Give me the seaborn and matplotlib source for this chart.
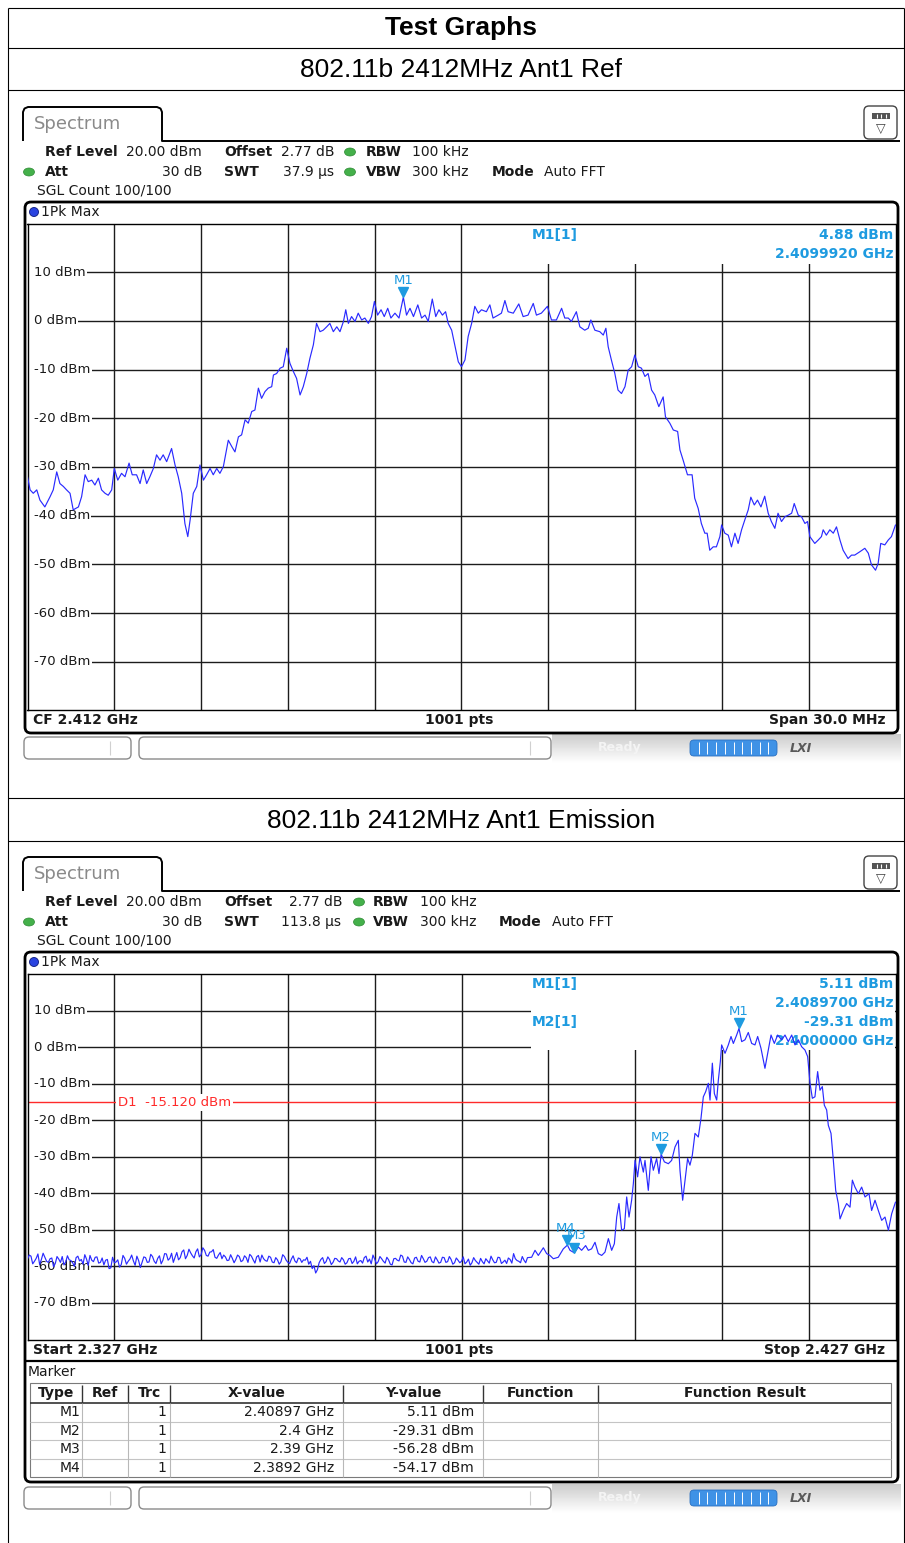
import matplotlib
matplotlib.use("Agg")
import matplotlib.pyplot as plt
import numpy as np
import pandas as pd
import seaborn as sns
from matplotlib.patches import FancyBboxPatch, Ellipse, Circle, Rectangle
from matplotlib.transforms import blended_transform_factory, offset_copy

# -------------------------
# Data: 802.11b 2412MHz Ant1 Ref (CF 2.412 GHz, span 30 MHz)
# -------------------------
ref_start_mhz = 2397.0
ref_stop_mhz = 2427.0
ref_offset_mhz = [
    0.00, 0.09, 0.20, 0.32, 0.43, 0.60, 0.78, 0.89, 1.01, 1.12,
    1.24, 1.35, 1.47, 1.58, 1.76, 1.87, 1.99, 2.10, 2.22, 2.33,
    2.45, 2.56, 2.68, 2.79, 2.91, 3.00, 3.12, 3.25, 3.37, 3.51,
    3.62, 3.77, 3.89, 4.00, 4.12, 4.23, 4.35, 4.46, 4.58, 4.69,
    4.81, 4.98, 5.10, 5.21, 5.33, 5.44, 5.54, 5.62, 5.73, 5.85,
    5.96, 6.08, 6.19, 6.31, 6.42, 6.54, 6.65, 6.77, 6.94, 7.06,
    7.17, 7.29, 7.40, 7.52, 7.63, 7.75, 7.86, 7.98, 8.09, 8.21,
    8.32, 8.44, 8.50, 8.61, 8.73, 8.84, 8.96, 9.07, 9.19, 9.30,
    9.42, 9.53, 9.65, 9.76, 9.88, 9.99, 10.11, 10.22, 10.34, 10.45,
    10.57, 10.69, 10.80, 10.92, 11.00, 11.09, 11.20, 11.32, 11.43, 11.55,
    11.66, 11.78, 11.89, 11.99, 12.10, 12.22, 12.33, 12.45, 12.56, 12.70,
    12.84, 12.99, 13.10, 13.22, 13.34, 13.49, 13.62, 13.74, 13.85, 13.99,
    14.11, 14.22, 14.34, 14.45, 14.54, 14.66, 14.78, 14.89, 15.00, 15.12,
    15.23, 15.35, 15.46, 15.58, 15.69, 15.86, 15.98, 16.09, 16.27, 16.38,
    16.50, 16.61, 16.79, 16.98, 17.13, 17.30, 17.48, 17.59, 17.76, 17.97,
    18.11, 18.28, 18.46, 18.57, 18.69, 18.80, 18.97, 19.09, 19.26, 19.38,
    19.47, 19.61, 19.78, 19.90, 19.99, 20.07, 20.18, 20.30, 20.41, 20.53,
    20.65, 20.76, 20.88, 20.99, 21.11, 21.22, 21.34, 21.45, 21.57, 21.68,
    21.82, 21.97, 22.05, 22.20, 22.32, 22.47, 22.55, 22.66, 22.81, 22.97,
    23.06, 23.18, 23.29, 23.41, 23.49, 23.58, 23.70, 23.81, 23.93, 23.99,
    24.10, 24.22, 24.33, 24.45, 24.56, 24.68, 24.79, 24.91, 25.00, 25.12,
    25.23, 25.35, 25.48, 25.60, 25.71, 25.83, 25.94, 26.06, 26.18, 26.29,
    26.41, 26.50, 26.64, 26.75, 26.87, 26.96, 27.04, 27.21, 27.33, 27.44,
    27.50, 27.61, 27.73, 27.85, 27.96, 28.08, 28.19, 28.36, 28.48, 28.59,
    28.77, 28.94, 29.06, 29.17, 29.31, 29.40, 29.49, 29.63, 29.75, 29.86,
    30.00,
]
ref_level_dbm = [
    -32.0, -34.7, -35.4, -34.7, -36.8, -38.2, -36.1, -34.7, -31.0, -33.4,
    -34.0, -34.7, -35.4, -38.8, -38.2, -36.1, -31.6, -33.0, -32.7, -33.7,
    -32.3, -34.7, -35.4, -35.8, -34.7, -30.3, -32.7, -31.3, -32.0, -29.2,
    -31.6, -31.6, -33.4, -30.6, -33.4, -32.0, -30.3, -27.5, -28.6, -27.5,
    -28.9, -26.2, -29.6, -32.0, -35.4, -41.6, -44.3, -40.9, -35.4, -34.0,
    -29.6, -32.7, -31.6, -30.3, -31.6, -30.3, -31.3, -29.9, -24.5, -25.8,
    -26.9, -23.8, -23.4, -20.3, -21.0, -18.6, -18.3, -13.8, -15.9, -14.5,
    -13.8, -13.5, -11.1, -10.8, -9.7, -9.4, -5.6, -8.7, -10.4, -11.8,
    -15.2, -13.5, -10.8, -7.7, -4.9, -0.5, -2.2, -1.9, -1.2, -0.5,
    -2.2, -1.2, -2.2, -0.1, 2.3, -0.5, 0.9, -0.1, 1.6, 0.2,
    0.6, -0.5, 0.9, 4.0, 1.2, 2.3, 0.9, 2.6, 0.6, 1.6,
    0.6, 4.88, 1.2, 2.6, 0.9, 3.3, 0.6, 1.2, -0.1, 4.5,
    0.9, 2.3, 1.2, 1.9, -0.5, -1.9, -5.3, -8.4, -9.4, -8.0,
    -3.2, -0.5, 3.0, 1.6, 2.3, 1.9, 3.3, 0.6, 1.2, 1.6,
    4.2, 1.9, 1.6, 3.5, 0.9, 1.2, 3.6, 1.2, 1.6, 3.0,
    0.2, 0.2, 2.6, 0.6, 0.6, -0.1, 1.9, -1.2, -1.9, -1.5,
    0.2, -1.9, -2.2, -2.9, -1.5, -5.3, -8.0, -10.8, -14.2, -14.9,
    -13.5, -10.1, -9.4, -7.0, -9.4, -9.7, -11.4, -10.8, -14.2, -15.2,
    -17.6, -15.6, -19.7, -21.0, -22.4, -22.7, -26.5, -28.6, -31.6, -31.6,
    -36.4, -38.5, -41.6, -43.6, -43.6, -47.1, -46.4, -46.4, -44.3, -41.9,
    -43.6, -44.0, -46.4, -43.6, -45.7, -42.9, -40.9, -38.8, -36.2, -37.8,
    -36.8, -38.2, -36.0, -39.5, -41.2, -42.6, -39.5, -41.2, -40.2, -39.9,
    -39.5, -37.5, -39.9, -40.2, -41.6, -41.2, -44.3, -45.7, -45.0, -44.3,
    -42.9, -44.0, -42.9, -43.6, -42.3, -45.0, -47.1, -48.8, -48.1, -48.1,
    -47.4, -46.7, -47.7, -50.1, -51.2, -49.8, -45.7, -46.0, -45.0, -44.3,
    -41.9,
]
ref_markers = [("M1", 2409.992, 4.88)]

# -------------------------
# Data: 802.11b 2412MHz Ant1 Emission (2.327 - 2.427 GHz)
# -------------------------
em_start_mhz = 2327.0
em_stop_mhz = 2427.0
em_offset_mhz = [
    0.0, 0.4, 0.8, 1.2, 1.6, 2.0, 2.4, 2.8, 3.2, 3.6,
    4.0, 4.4, 4.8, 5.2, 5.6, 6.0, 6.4, 6.8, 7.2, 7.6,
    8.0, 8.4, 8.8, 9.2, 9.6, 10.0, 10.4, 10.8, 11.2, 11.6,
    12.0, 12.4, 12.8, 13.2, 13.6, 14.0, 14.4, 14.8, 15.2, 15.6,
    16.0, 16.4, 16.8, 17.2, 17.6, 18.0, 18.4, 18.8, 19.2, 19.6,
    20.0, 20.4, 20.8, 21.2, 21.6, 22.0, 22.4, 22.8, 23.2, 23.6,
    24.0, 24.4, 24.8, 25.2, 25.6, 26.0, 26.4, 26.8, 27.2, 27.6,
    28.0, 28.4, 28.8, 29.2, 29.6, 30.0, 30.4, 30.8, 31.2, 31.6,
    32.0, 32.4, 32.8, 33.2, 33.6, 34.0, 34.4, 34.8, 35.2, 35.6,
    36.0, 36.4, 36.8, 37.2, 37.6, 38.0, 38.4, 38.8, 39.2, 39.6,
    40.0, 40.4, 40.8, 41.2, 41.6, 42.0, 42.4, 42.8, 43.2, 43.6,
    44.0, 44.4, 44.8, 45.2, 45.6, 46.0, 46.4, 46.8, 47.2, 47.6,
    48.0, 48.4, 48.8, 49.2, 49.6, 50.0, 50.4, 50.8, 51.2, 51.6,
    52.0, 52.4, 52.8, 53.2, 53.6, 54.0, 54.4, 54.8, 55.2, 55.6,
    56.0, 56.4, 56.8, 57.2, 57.6, 58.08, 58.47, 58.85, 59.43, 59.81,
    60.19, 60.58, 61.15, 61.73, 62.20, 62.50, 63.00, 63.46, 63.84, 64.30,
    64.61, 64.99, 65.38, 65.76, 66.15, 66.53, 66.92, 67.30, 67.61, 67.88,
    68.14, 68.45, 68.76, 69.03, 69.30, 69.60, 69.80, 69.99, 70.29, 70.56,
    70.95, 71.14, 71.52, 71.83, 72.10, 72.48, 72.75, 73.00, 73.37, 73.83,
    74.21, 74.60, 74.98, 75.17, 75.48, 75.75, 76.05, 76.32, 76.59, 76.90,
    77.28, 77.59, 77.86, 78.13, 78.44, 78.63, 78.90, 79.13, 79.40, 79.59,
    79.82, 79.97, 80.36, 80.74, 81.05, 81.32, 81.70, 81.97, 82.28, 82.66,
    83.04, 83.43, 83.81, 84.12, 84.50, 84.96, 85.35, 85.66, 86.04, 86.42,
    86.88, 87.27, 87.65, 88.04, 88.42, 88.81, 89.19, 89.57, 89.88, 90.15,
    90.42, 90.72, 91.03, 91.30, 91.57, 91.80, 92.07, 92.26, 92.57, 92.84,
    93.11, 93.41, 93.61, 93.99, 94.37, 94.76, 95.03, 95.33, 95.72, 96.10,
    96.49, 96.95, 97.25, 97.64, 98.02, 98.41, 98.79, 99.18, 99.56, 100.0,
]
em_level_dbm = [
    -58.0, -57.2, -58.6, -56.6, -58.1, -57.5, -58.9, -57.7, -59.2, -58.0,
    -57.3, -58.8, -58.2, -59.0, -57.6, -58.5, -59.4, -58.0, -57.0, -58.7,
    -57.4, -58.9, -59.6, -58.1, -60.4, -59.0, -58.2, -59.5, -57.8, -58.6,
    -56.9, -59.7, -58.4, -58.9, -57.6, -58.8, -57.3, -59.2, -57.1, -58.3,
    -56.6, -57.8, -58.9, -56.2, -57.6, -55.5, -57.0, -56.3, -57.7, -55.2,
    -56.8, -55.6, -57.2, -56.0, -57.5, -56.9, -57.9, -57.4, -58.3, -57.8,
    -58.1, -57.3, -58.4, -57.6, -56.7, -58.2, -57.4, -58.8, -57.9, -58.6,
    -57.5, -59.0, -58.2, -58.7, -57.3, -58.9, -58.0, -58.5, -57.7, -58.9,
    -58.3, -59.4, -60.6, -61.8, -59.0, -57.6, -58.7, -58.1, -58.9, -57.9,
    -58.8, -58.2, -59.0, -57.8, -58.6, -59.3, -58.4, -57.6, -58.8, -59.3,
    -58.0, -58.7, -57.9, -59.1, -58.2, -59.6, -57.8, -58.5, -57.2, -58.9,
    -58.1, -59.3, -57.5, -58.8, -57.9, -58.6, -57.4, -59.0, -58.2, -58.9,
    -57.6, -58.7, -58.1, -59.0, -58.3, -58.6, -59.3, -58.0, -59.0, -58.4,
    -59.4, -58.7, -57.9, -59.1, -58.2, -58.9, -57.6, -58.8, -59.2, -58.1,
    -56.5, -58.4, -59.0, -58.3, -57.6, -57.5, -55.6, -57.0, -54.9, -56.5,
    -57.0, -57.9, -57.5, -55.2, -54.17, -55.6, -56.28, -54.7, -55.6, -54.3,
    -55.6, -55.2, -53.4, -56.5, -57.0, -56.1, -52.4, -55.6, -53.8, -46.5,
    -42.8, -50.1, -49.7, -41.0, -46.5, -41.9, -37.3, -31.0, -35.5, -30.0,
    -34.2, -31.0, -39.2, -30.0, -33.7, -30.5, -34.6, -29.31, -31.4, -31.9,
    -31.0, -27.3, -25.5, -33.7, -41.9, -36.4, -30.5, -32.3, -29.6, -23.6,
    -24.6, -19.5, -13.6, -12.2, -9.9, -14.5, -4.4, -12.7, -14.5, -9.0,
    -4.0, 0.6, -1.7, 0.6, 2.9, 1.0, 3.3, 5.11, 1.5, 2.0,
    4.0, 1.0, 0.6, 2.9, -0.3, -5.8, -0.8, 3.3, 1.0, 3.3,
    2.0, 3.3, 1.5, 3.3, 0.6, 2.0, 0.1, -0.8, -2.6, -9.9,
    -14.0, -13.6, -6.7, -11.8, -10.8, -15.9, -17.2, -21.4, -23.6, -31.0,
    -39.2, -42.8, -47.0, -44.7, -42.8, -43.8, -36.4, -38.3, -40.1, -38.3,
    -41.0, -40.1, -44.7, -41.9, -44.7, -47.4, -46.5, -50.1, -45.6, -42.4,
]
# extra noise-floor samples read between the points above
em_floor_offset_mhz = [
    0.2, 0.6, 1.0, 1.4, 1.8, 2.2, 2.6, 3.0, 3.4, 3.8,
    4.2, 4.6, 5.0, 5.4, 5.8, 6.2, 6.6, 7.0, 7.4, 7.8,
    8.2, 8.6, 9.0, 9.4, 9.8, 10.2, 10.6, 11.0, 11.4, 11.8,
    12.2, 12.6, 13.0, 13.4, 13.8, 14.2, 14.6, 15.0, 15.4, 15.8,
    16.2, 16.6, 17.0, 17.4, 17.8, 18.2, 18.6, 19.0, 19.4, 19.8,
    20.2, 20.6, 21.0, 21.4, 21.8, 22.2, 22.6, 23.0, 23.4, 23.8,
    24.2, 24.6, 25.0, 25.4, 25.8, 26.2, 26.6, 27.0, 27.4, 27.8,
    28.2, 28.6, 29.0, 29.4, 29.8, 30.2, 30.6, 31.0, 31.4, 31.8,
    32.2, 32.6, 33.0, 33.4, 33.8, 34.2, 34.6, 35.0, 35.4, 35.8,
    36.2, 36.6, 37.0, 37.4, 37.8, 38.2, 38.6, 39.0, 39.4, 39.8,
    40.2, 40.6, 41.0, 41.4, 41.8, 42.2, 42.6, 43.0, 43.4, 43.8,
    44.2, 44.6, 45.0, 45.4, 45.8, 46.2, 46.6, 47.0, 47.4, 47.8,
    48.2, 48.6, 49.0, 49.4, 49.8, 50.2, 50.6, 51.0, 51.4, 51.8,
    52.2, 52.6, 53.0, 53.4, 53.8, 54.2, 54.6, 55.0, 55.4, 55.8,
    56.2, 56.6, 57.0, 57.4,
]
em_floor_level_dbm = [
    -56.9, -59.3, -57.8, -59.5, -56.4, -58.6, -57.9, -60.1, -57.3, -58.9,
    -59.6, -57.1, -58.4, -60.0, -57.2, -58.1, -56.8, -59.7, -58.3, -57.5,
    -59.1, -57.7, -58.3, -60.6, -57.5, -58.8, -60.2, -57.0, -59.4, -58.0,
    -58.5, -57.2, -60.3, -57.4, -58.9, -56.7, -58.6, -57.8, -59.3, -56.5,
    -58.3, -56.4, -57.5, -58.2, -56.0, -57.9, -55.3, -57.1, -56.0, -57.4,
    -54.9, -57.0, -56.1, -55.4, -57.8, -56.2, -56.9, -58.4, -56.8, -59.0,
    -56.9, -58.7, -57.1, -58.9, -57.2, -59.1, -57.0, -56.9, -58.4, -57.2,
    -58.8, -57.6, -59.4, -56.8, -58.3, -59.2, -57.1, -59.0, -57.9, -58.2,
    -57.5, -58.6, -59.8, -60.9, -58.1, -59.2, -57.4, -59.5, -57.8, -58.5,
    -57.6, -59.4, -57.9, -59.2, -57.4, -58.6, -59.1, -57.2, -58.0, -56.9,
    -59.3, -57.3, -58.6, -57.5, -59.4, -57.9, -58.3, -56.9, -58.8, -57.4,
    -59.0, -57.7, -58.6, -57.0, -58.9, -57.6, -58.7, -57.4, -59.1, -57.5,
    -58.9, -57.3, -59.4, -57.7, -59.0, -57.4, -58.8, -59.7, -57.6, -58.9,
    -57.8, -59.3, -58.5, -57.2, -59.0, -57.5, -59.2, -58.3, -57.7, -59.1,
    -57.9, -58.6, -57.3, -59.0,
]
em_markers = [("M1", 2408.97, 5.11), ("M2", 2400.0, -29.31),
              ("M3", 2390.0, -56.28), ("M4", 2389.2, -54.17)]
em_display_line_dbm = -15.12

table_columns = ["Type", "Ref", "Trc", "X-value", "Y-value", "Function", "Function Result"]
table_types = ["M1", "M2", "M3", "M4"]
table_x = ["2.40897 GHz", "2.4 GHz", "2.39 GHz", "2.3892 GHz"]
table_y = ["5.11 dBm", "-29.31 dBm", "-56.28 dBm", "-54.17 dBm"]

# -------------------------
# Figure setup
# -------------------------
sns.set_theme(style="white")
plt.rcParams["font.family"] = ["DejaVu Sans"]

W, H = 905, 1543
fig = plt.figure(figsize=(W / 100, H / 100), dpi=100)
bg = fig.add_axes([0, 0, 1, 1])
bg.set_xlim(0, W)
bg.set_ylim(H, 0)
bg.axis("off")

TXT = "#1a1a1a"
MK = "#1e9be0"
TRACE = "#2a2aff"
GRID = "#1c1c1c"


def line(xs, ys, **kw):
    kw.setdefault("color", "black")
    kw.setdefault("lw", 0.8)
    bg.plot(xs, ys, solid_capstyle="butt", **kw)


def txt(x, y, s, size=10, ha="left", bold=False, color=TXT, **kw):
    bg.text(x, y, s, fontsize=size, ha=ha, va="center", color=color,
            fontweight="bold" if bold else "normal", **kw)


# outer report table
line([8, 8], [8, H])
line([904, 904], [8, H])
for yy in (8, 48, 90, 798, 841):
    line([8, 904], [yy, yy])
arial = ["Liberation Sans", "DejaVu Sans"]
txt(461, 28, "Test Graphs", size=19, ha="center", bold=True, color="black", family=arial)
txt(461, 70, "802.11b 2412MHz Ant1 Ref", size=19, ha="center", color="black", family=arial)
txt(461, 821, "802.11b 2412MHz Ant1 Emission", size=19, ha="center", color="black", family=arial)


def green_dot(x, y):
    bg.add_patch(Ellipse((x, y), 11, 8, fc="#44b04a", ec="#2e8a34", lw=0.5))


def chrome(dy, head, frame_bottom, status_y):
    # tab
    line([23, 23, 24.5, 28, 157, 160.5, 162, 162, 900],
         [141 + dy, 112 + dy, 108.5 + dy, 107 + dy, 107 + dy, 108.5 + dy, 112 + dy, 141 + dy, 141 + dy],
         lw=1.4)
    txt(34, 124 + dy, "Spectrum", size=13, color="#8a8a8a")
    # icon
    bg.add_patch(FancyBboxPatch((864, 106 + dy), 33, 33, boxstyle="round,pad=0,rounding_size=5",
                                fc="white", ec="#444444", lw=1))
    bg.add_patch(Rectangle((872, 113 + dy), 18, 6, fc="#555555", ec="none"))
    for xx in (876.5, 881, 885.5):
        line([xx, xx], [114 + dy, 118 + dy], color="white", lw=0.8)
    txt(881, 128 + dy, "\u25bd", size=9, ha="center", color="#444444")
    # header
    for (x, y, s, bold, ha) in head:
        if s == "dot":
            green_dot(x, y + dy)
        else:
            txt(x, y + dy, s, bold=bold, ha=ha)
    # frame
    bg.add_patch(FancyBboxPatch((25, 202 + dy), 873, frame_bottom - 202 - dy,
                                boxstyle="round,pad=0,rounding_size=6", fc="none", ec="black", lw=2))
    bg.add_patch(Circle((34, 212 + dy), 4.5, fc="#2a44e0", ec="#0c1a7a", lw=0.6))
    txt(41, 212 + dy, "1Pk Max")
    # status bar
    sy = status_y
    bg.add_patch(FancyBboxPatch((24, sy), 107, 22, boxstyle="round,pad=0,rounding_size=5",
                                fc="white", ec="#8a8a8a", lw=1))
    bg.add_patch(FancyBboxPatch((139, sy), 412, 22, boxstyle="round,pad=0,rounding_size=5",
                                fc="white", ec="#8a8a8a", lw=1))
    line([110, 110], [sy + 4, sy + 18], color="#d0d0d0", lw=0.8)
    line([530, 530], [sy + 4, sy + 18], color="#d0d0d0", lw=0.8)
    grad = np.linspace(0.80, 1.0, 30).reshape(-1, 1)
    bg.imshow(grad, extent=[552, 900, sy + 26, sy - 3], cmap="gray", vmin=0, vmax=1,
              aspect="auto", zorder=0.5)
    txt(620, sy + 10, "Ready", size=9, ha="center", color="#f4f4f4", bold=True)
    bg.add_patch(FancyBboxPatch((690, sy + 3), 87, 16, boxstyle="round,pad=0,rounding_size=4",
                                fc="#3f92e6", ec="#2a70c0", lw=0.6))
    for k in range(1, 10):
        line([690 + k * 8.7, 690 + k * 8.7], [sy + 5, sy + 17], color="white", lw=0.7)
    txt(801, sy + 11, "LXI", size=9, ha="center", bold=True, color="#5a5a5a", style="italic")
    bg.set_xlim(0, W)
    bg.set_ylim(H, 0)


ref_head = [
    (45, 152, "Ref Level", True, "left"), (126, 152, "20.00 dBm", False, "left"),
    (224, 152, "Offset", True, "left"), (281, 152, "2.77 dB", False, "left"),
    (350, 152, "dot", False, "left"), (366, 152, "RBW", True, "left"), (412, 152, "100 kHz", False, "left"),
    (29, 172, "dot", False, "left"), (45, 172, "Att", True, "left"), (202, 172, "30 dB", False, "right"),
    (224, 172, "SWT", True, "left"), (283, 172, "37.9 \u00b5s", False, "left"),
    (350, 172, "dot", False, "left"), (366, 172, "VBW", True, "left"), (412, 172, "300 kHz", False, "left"),
    (492, 172, "Mode", True, "left"), (544, 172, "Auto FFT", False, "left"),
    (37, 191, "SGL Count 100/100", False, "left"),
]
em_head = [
    (45, 152, "Ref Level", True, "left"), (126, 152, "20.00 dBm", False, "left"),
    (224, 152, "Offset", True, "left"), (289, 152, "2.77 dB", False, "left"),
    (359, 152, "dot", False, "left"), (373, 152, "RBW", True, "left"), (420, 152, "100 kHz", False, "left"),
    (29, 172, "dot", False, "left"), (45, 172, "Att", True, "left"), (202, 172, "30 dB", False, "right"),
    (224, 172, "SWT", True, "left"), (281, 172, "113.8 \u00b5s", False, "left"),
    (359, 172, "dot", False, "left"), (373, 172, "VBW", True, "left"), (420, 172, "300 kHz", False, "left"),
    (499, 172, "Mode", True, "left"), (552, 172, "Auto FFT", False, "left"),
    (37, 191, "SGL Count 100/100", False, "left"),
]

chrome(0, ref_head, 733, 737)
chrome(750, em_head, 1482, 1487)


def spectrum(top, bottom, f0, f1, freq, level, box_f, box_db, markers, info):
    ax = fig.add_axes([27.5 / W, 1 - bottom / H, 868 / W, (bottom - top) / H])
    ax.set_xlim(f0, f1)
    ax.set_ylim(-80, 20)
    ax.set_xticks([])
    ax.set_yticks([])
    for s in ax.spines.values():
        s.set_color("black")
        s.set_linewidth(1.0)
    step = (f1 - f0) / 10
    for i in range(1, 10):
        ax.axvline(f0 + i * step, color=GRID, lw=1.0, zorder=1)
    for v in range(-70, 20, 10):
        ax.axhline(v, color=GRID, lw=1.0, zorder=1)
    ax.add_patch(Rectangle((box_f, box_db), f1 - box_f, 20 - box_db, fc="white", ec="none", zorder=1.5))
    tr = blended_transform_factory(ax.transAxes, ax.transData)
    for v in range(10, -80, -10):
        ax.plot([0, 8 / 868], [v, v], color="white", lw=3, transform=tr, zorder=1.6)
        ax.text(6 / 868, v, f"{v} dBm", transform=tr, ha="left", va="center", fontsize=9.5,
                color=TXT, bbox=dict(fc="white", ec="none", pad=1.2), zorder=2)
    for (x, y, s, ha, bold) in info:
        ax.text(x, y, s, transform=bg.transData, ha=ha, va="center", fontsize=10,
                color=MK, fontweight="bold" if bold else "normal", zorder=2)
    df = pd.DataFrame({"freq": freq, "level": level})
    sns.lineplot(data=df, x="freq", y="level", ax=ax, color=TRACE, lw=0.85,
                 estimator=None, sort=True, zorder=3)
    ax.set_xlabel("")
    ax.set_ylabel("")
    tri = offset_copy(ax.transData, fig=fig, y=5, units="dots")
    for name, f, v, dx in markers:
        lab = offset_copy(ax.transData, fig=fig, x=dx, y=17, units="dots")
        ax.plot([f], [v], marker="v", ms=7, color=MK, transform=tri, zorder=4)
        ax.text(f, v, name, transform=lab, ha="center", va="center", fontsize=9.5, color=MK, zorder=4)
    return ax


ref_freq = [ref_start_mhz + f for f in ref_offset_mhz]
ax1 = spectrum(223.6, 710.4, ref_start_mhz, ref_stop_mhz, ref_freq, ref_level_dbm, 2414.4, 11.7,
               [(n, f, v, 0) for n, f, v in ref_markers],
               [(532, 235, "M1[1]", "left", True), (893, 235, "4.88 dBm", "right", True),
                (893, 254, "2.4099920 GHz", "right", True)])

em_freq = [em_start_mhz + f for f in em_offset_mhz + em_floor_offset_mhz]
em_level = em_level_dbm + em_floor_level_dbm
label_dx = {"M1": 0, "M2": 0, "M3": 2, "M4": -2}
ax2 = spectrum(974.0, 1339.5, em_start_mhz, em_stop_mhz, em_freq, em_level, 2385.0, -0.7,
               [(n, f, v, label_dx[n]) for n, f, v in em_markers],
               [(532, 984, "M1[1]", "left", True), (893, 984, "5.11 dBm", "right", True),
                (893, 1003, "2.4089700 GHz", "right", True),
                (532, 1022, "M2[1]", "left", True), (893, 1022, "-29.31 dBm", "right", True),
                (893, 1041, "2.4000000 GHz", "right", True)])
ax2.axhline(em_display_line_dbm, color="#ff2a2a", lw=1.0, zorder=2.5)
ax2.text(90.5 / 868, em_display_line_dbm, "D1  -15.120 dBm",
         transform=blended_transform_factory(ax2.transAxes, ax2.transData),
         ha="left", va="center", fontsize=9.5, color="#ff2a2a",
         bbox=dict(fc="white", ec="none", pad=1.2), zorder=2.6)

# bottom rows of each plot
txt(33, 720, "CF 2.412 GHz", bold=True)
txt(459, 720, "1001 pts", bold=True, ha="center")
txt(885, 720, "Span 30.0 MHz", bold=True, ha="right")
txt(33, 1350, "Start 2.327 GHz", bold=True)
txt(459, 1350, "1001 pts", bold=True, ha="center")
txt(885, 1350, "Stop 2.427 GHz", bold=True, ha="right")

# marker table
line([25, 898], [1360.5, 1360.5], lw=1.6)
txt(28, 1372, "Marker")
bg.add_patch(Rectangle((30, 1383), 861, 94, fc="white", ec="#7a7a7a", lw=0.8))
line([30, 891], [1403, 1403], color="#333333", lw=1.2)
for yy in (1421.5, 1440, 1458.5):
    line([30, 891], [yy, yy], color="#c4c4c4", lw=0.8)
col_edges = [30, 82, 128, 170, 343, 483, 598, 891]
for xx in col_edges[1:-1]:
    line([xx, xx], [1385, 1403], color="#333333", lw=1.0)
    line([xx, xx], [1403, 1477], color="#b8b8b8", lw=0.8)
for i, name in enumerate(table_columns):
    txt((col_edges[i] + col_edges[i + 1]) / 2, 1393, name, ha="center", bold=True)
for r, yy in enumerate((1412, 1431, 1449, 1468)):
    txt(80, yy, table_types[r], ha="right")
    txt(166, yy, "1", ha="right")
    txt(334, yy, table_x[r], ha="right")
    txt(474, yy, table_y[r], ha="right")

plt.savefig("out.png", dpi=100)
